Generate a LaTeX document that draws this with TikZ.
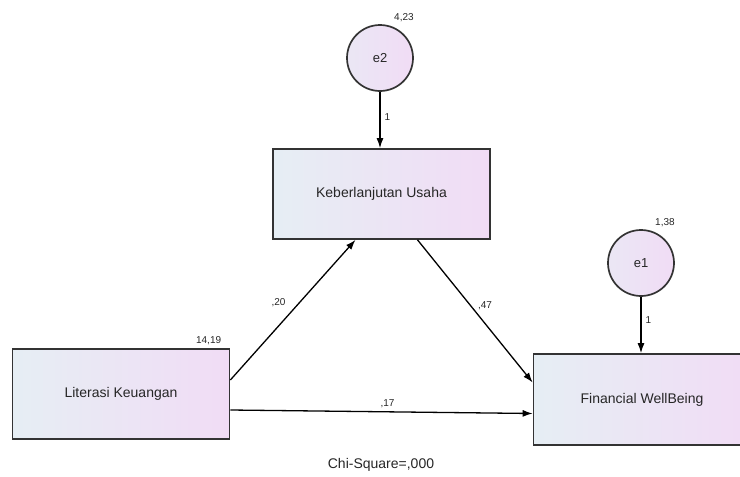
\documentclass[tikz,border=0pt]{standalone}
\usepackage{fontspec}
\setmainfont{Liberation Sans}
\usetikzlibrary{arrows.meta, positioning}

\definecolor{boxleft}{HTML}{E6EEF4}
\definecolor{boxright}{HTML}{F1DCF5}
\definecolor{edgegray}{HTML}{333333}

\begin{document}
\begin{tikzpicture}[
  x=1pt, y=-1pt,
  box/.style={draw=edgegray, line width=1.7pt, left color=boxleft, right color=boxright,
    minimum width=217pt, minimum height=90pt, font=\fontsize{14}{16}\selectfont, text=black!85},
  err/.style={circle, draw=edgegray, line width=1.7pt, left color=boxleft!60!boxright, right color=boxright,
    minimum size=66pt, inner sep=0pt, font=\fontsize{13}{15}\selectfont, text=black!85},
  lbl/.style={font=\fontsize{10}{11}\selectfont, inner sep=1pt, text=black!85},
  arrow/.style={-{Latex[length=10pt, width=7pt]}, line width=1.3pt}
]
\useasboundingbox (0,0) rectangle (740,477);

\node[box] (ku) at (381.5,194) {Keberlanjutan Usaha};
\node[box] (lk) at (121,394) {Literasi Keuangan};
\node[box, minimum height=91pt] (fw) at (642,399.5) {Financial WellBeing};
\node[err] (e2) at (380,58) {e2};
\node[err] (e1) at (641,263) {e1};

\node[lbl, above=11pt of e2.north east] (v2) {4,23};
\node[lbl, above=11pt of e1.north east] (v1) {1,38};
\node[lbl, above left=2pt and 8pt of lk.north east] (vlk) {14,19};
\node[font=\fontsize{14}{16}\selectfont, text=black!85] (chi) at (381,465) {Chi-Square=,000};

\draw[arrow] (e2.south) -- (e2.south |- ku.north) node[lbl, pos=.45, right=3pt] {1};
\draw[arrow] (e1.south) -- (e1.south |- fw.north) node[lbl, pos=.42, right=3pt] {1};
\draw[arrow] ([yshift=14pt]lk.east) -- ([xshift=-26pt]ku.south) node[lbl, pos=.55, left=12pt] {,20};
\draw[arrow] ([xshift=36pt]ku.south) -- ([yshift=17pt]fw.west) node[lbl, pos=.46, right=6pt] {,47};
\draw[arrow] ([yshift=-16pt]lk.east) -- ([yshift=-14pt]fw.west) node[lbl, pos=.52, above=2pt] {,17};
\end{tikzpicture}
\end{document}
